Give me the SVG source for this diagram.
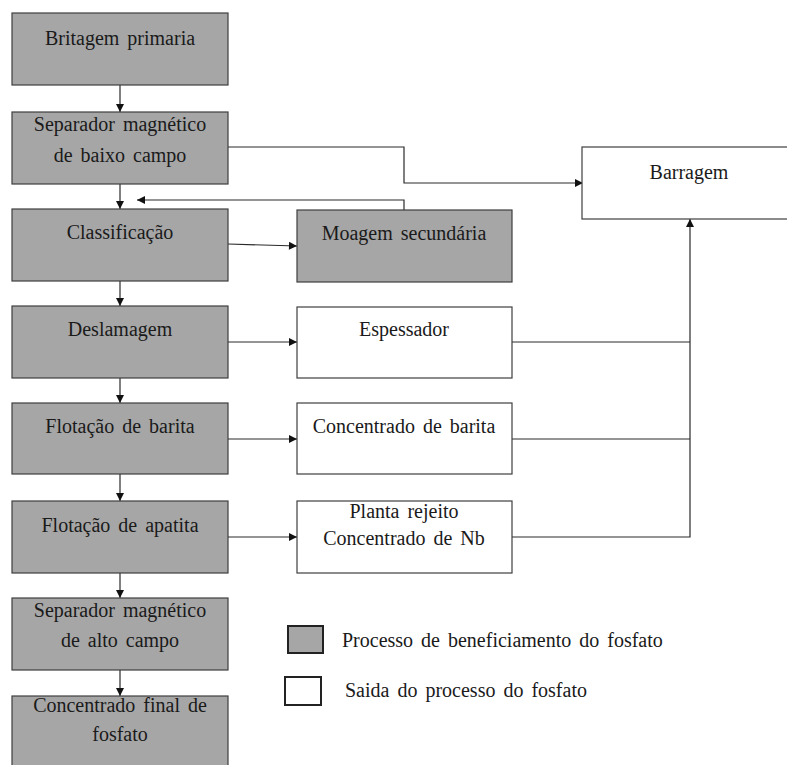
<svg xmlns="http://www.w3.org/2000/svg" width="787" height="765" viewBox="0 0 787 765" font-family="Liberation Serif, Times New Roman, serif">
  <style>
    .proc { fill: #a6a6a6; stroke: #3f3f3f; stroke-width: 1.2; }
    .out { fill: #ffffff; stroke: #3f3f3f; stroke-width: 1.2; }
    text { font-size: 20px; fill: #1a1a1a; word-spacing: 3px; }
    .lbl { text-anchor: middle; }
    .wire { fill: none; stroke: #2a2a2a; stroke-width: 1.2; }
  </style>
  <defs>
    <marker id="arrow" viewBox="0 0 10 10" refX="10" refY="5" markerWidth="10" markerHeight="8" markerUnits="userSpaceOnUse" orient="auto">
      <path d="M0,0 L10,5 L0,10 z" fill="#111111"/>
    </marker>
  </defs>
  <rect width="787" height="765" fill="#ffffff"/>

  <!-- connectors -->
  <g id="connectors">
    <!-- main column flow -->
    <line class="wire" x1="120" y1="85" x2="120" y2="112" marker-end="url(#arrow)"/>
    <line class="wire" x1="120" y1="184" x2="120" y2="209" marker-end="url(#arrow)"/>
    <line class="wire" x1="120" y1="281" x2="120" y2="306" marker-end="url(#arrow)"/>
    <line class="wire" x1="120" y1="378" x2="120" y2="403" marker-end="url(#arrow)"/>
    <line class="wire" x1="120" y1="474" x2="120" y2="501" marker-end="url(#arrow)"/>
    <line class="wire" x1="120" y1="573" x2="120" y2="598" marker-end="url(#arrow)"/>
    <line class="wire" x1="120" y1="670" x2="120" y2="696" marker-end="url(#arrow)"/>
    <!-- low-field separator to dam -->
    <polyline class="wire" points="228,147 404,147 404,183 583,183" marker-end="url(#arrow)"/>
    <!-- secondary milling return -->
    <polyline class="wire" points="404,210 404,200 137,200" marker-end="url(#arrow)"/>
    <!-- side branches -->
    <line class="wire" x1="228" y1="244" x2="297" y2="246" marker-end="url(#arrow)"/>
    <line class="wire" x1="228" y1="342" x2="297" y2="342" marker-end="url(#arrow)"/>
    <line class="wire" x1="228" y1="439" x2="297" y2="439" marker-end="url(#arrow)"/>
    <line class="wire" x1="228" y1="537" x2="297" y2="537" marker-end="url(#arrow)"/>
    <!-- tailings collector to dam -->
    <line class="wire" x1="512" y1="342" x2="690" y2="342"/>
    <line class="wire" x1="512" y1="439" x2="690" y2="439"/>
    <polyline class="wire" points="512,537 690,537 690,219" marker-end="url(#arrow)"/>
  </g>

  <!-- process column -->
  <g id="britagem">
    <rect class="proc" x="12" y="13" width="216" height="72"/>
    <text class="lbl" x="120" y="45">Britagem primaria</text>
  </g>
  <g id="sep-baixo">
    <rect class="proc" x="12" y="112" width="216" height="72"/>
    <text class="lbl" x="120" y="131">Separador magnético</text>
    <text class="lbl" x="120" y="162">de baixo campo</text>
  </g>
  <g id="classificacao">
    <rect class="proc" x="12" y="209" width="216" height="72"/>
    <text class="lbl" x="120" y="239">Classificação</text>
  </g>
  <g id="deslamagem">
    <rect class="proc" x="12" y="306" width="216" height="72"/>
    <text class="lbl" x="120" y="336">Deslamagem</text>
  </g>
  <g id="flot-barita">
    <rect class="proc" x="12" y="403" width="216" height="71"/>
    <text class="lbl" x="120" y="433">Flotação de barita</text>
  </g>
  <g id="flot-apatita">
    <rect class="proc" x="12" y="501" width="216" height="72"/>
    <text class="lbl" x="120" y="532">Flotação de apatita</text>
  </g>
  <g id="sep-alto">
    <rect class="proc" x="12" y="598" width="216" height="72"/>
    <text class="lbl" x="120" y="617">Separador magnético</text>
    <text class="lbl" x="120" y="647">de alto campo</text>
  </g>
  <g id="concentrado-final">
    <rect class="proc" x="12" y="696" width="216" height="80"/>
    <text class="lbl" x="120" y="712">Concentrado final de</text>
    <text class="lbl" x="120" y="741">fosfato</text>
  </g>

  <!-- side outputs -->
  <g id="moagem">
    <rect class="proc" x="297" y="210" width="215" height="72"/>
    <text class="lbl" x="404" y="240">Moagem secundária</text>
  </g>
  <g id="espessador">
    <rect class="out" x="297" y="307" width="215" height="71"/>
    <text class="lbl" x="404" y="336">Espessador</text>
  </g>
  <g id="conc-barita">
    <rect class="out" x="297" y="403" width="215" height="71"/>
    <text class="lbl" x="404" y="433">Concentrado de barita</text>
  </g>
  <g id="planta-rejeito">
    <rect class="out" x="297" y="501" width="215" height="72"/>
    <text class="lbl" x="404" y="518">Planta rejeito</text>
    <text class="lbl" x="404" y="545">Concentrado de Nb</text>
  </g>
  <g id="barragem">
    <rect class="out" x="582" y="147" width="215" height="72"/>
    <text class="lbl" x="689" y="179">Barragem</text>
  </g>

  <!-- legend -->
  <g id="legenda">
    <rect x="288" y="626" width="35" height="27" fill="#a6a6a6" stroke="#222222" stroke-width="2"/>
    <text x="342" y="647">Processo de beneficiamento do fosfato</text>
    <rect x="285" y="677" width="36" height="28" fill="#ffffff" stroke="#222222" stroke-width="2"/>
    <text x="345" y="697">Saida do processo do fosfato</text>
  </g>
</svg>
